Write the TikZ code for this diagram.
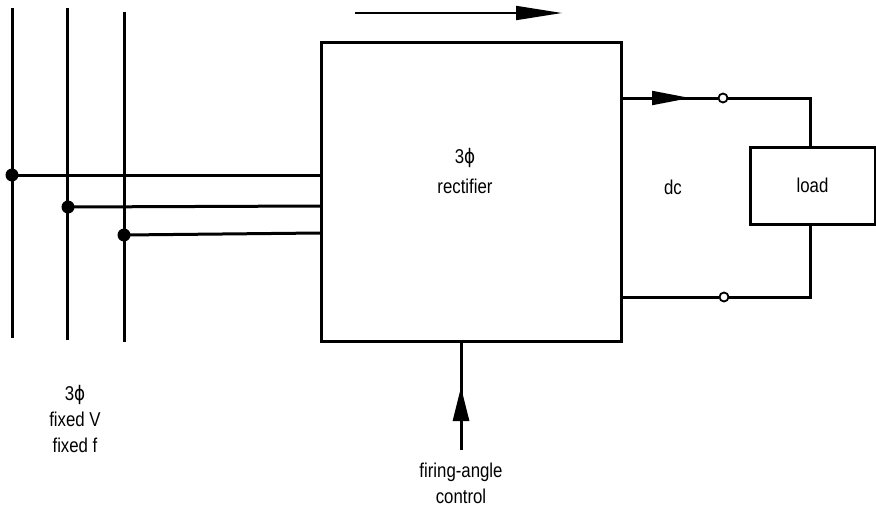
\documentclass[tikz,border=0pt]{standalone}
\usepackage{fontspec}
\setmainfont[FakeStretch=0.84]{Liberation Sans}
\newfontfamily\symfont[FakeStretch=0.84]{DejaVu Sans}
\usetikzlibrary{arrows.meta}
\newcommand{\phisym}{{\symfont ϕ}}
\begin{document}
\begin{tikzpicture}[x=1pt,y=-1pt,
  wire/.style={line width=3pt},
  dotc/.style={circle,fill=black,inner sep=0pt,minimum size=13pt},
  term/.style={circle,draw,line width=1.8pt,fill=white,inner sep=0pt,minimum size=9pt},
  lbl/.style={font=\fontsize{20}{26}\selectfont,align=center,inner sep=0pt},
  box/.style={draw,line width=3pt}]
\useasboundingbox (0,0) rectangle (876,509);
% rectifier box
\node[box,minimum width=300pt,minimum height=299pt,anchor=north west,inner sep=0pt] (rect) at (320,41) {};
\node[lbl,font=\fontsize{20}{30}\selectfont] (rtxt) at (465,171) {3\phisym\\rectifier};
% three-phase lines
\coordinate (a1) at (12,8); \coordinate (a2) at (12,338);
\coordinate (b1) at (67,8); \coordinate (b2) at (67,340);
\coordinate (c1) at (124,12); \coordinate (c2) at (124,342);
\draw[wire] (a1) -- (a2);
\draw[wire] (b1) -- (b2);
\draw[wire] (c1) -- (c2);
\node[dotc] (d1) at (12,175) {};
\node[dotc] (d2) at (68,207) {};
\node[dotc] (d3) at (124,235) {};
\coordinate (r1) at (320,175);
\coordinate (r2) at (320,206);
\coordinate (r3) at (320,233);
\draw[wire] (d1.center) -- (r1);
\draw[wire] (d2.center) -- (r2);
\draw[wire] (d3.center) -- (r3);
\node[lbl] (src) at (75,419) {3\phisym\\fixed V\\fixed f};
% power flow arrow
\coordinate (f1) at (355,13); \coordinate (f2) at (562,13);
\draw[line width=1.8pt,-{Triangle[length=46pt,width=14pt]}] (f1) -- (f2);
% dc output
\node[box,minimum width=125pt,minimum height=77pt,inner sep=0pt] (load) at (812.5,185.5) {};
\node[lbl] at (load.center) {load};
\node[term] (t1) at (723,98) {};
\node[term] (t2) at (724,297) {};
\coordinate (o1) at (620,98);
\coordinate (o2) at (620,297);
\coordinate (k1) at (810,98);
\coordinate (k2) at (810,297);
\draw[wire] (o1) -- (t1.west);
\draw[line width=2pt,-{Triangle[length=38pt,width=14pt]}] (o1) -- (690,98);
\draw[wire] (t1.east) -- (k1) -- (k1 |- load.north);
\draw[wire] (o2) -- (t2.west);
\draw[wire] (t2.east) -- (k2) -- (k2 |- load.south);
\node[lbl] (dc) at (673,187) {dc};
% firing-angle control
\coordinate (g0) at (461,450);
\coordinate (g1) at (461,340);
\draw[wire] (g0) -- (g1);
\draw[line width=3pt,-{Triangle[length=34pt,width=16pt]}] (g0) -- (461,387);
\node[lbl] (fac) at (461,483) {firing-angle\\control};
\end{tikzpicture}
\end{document}
